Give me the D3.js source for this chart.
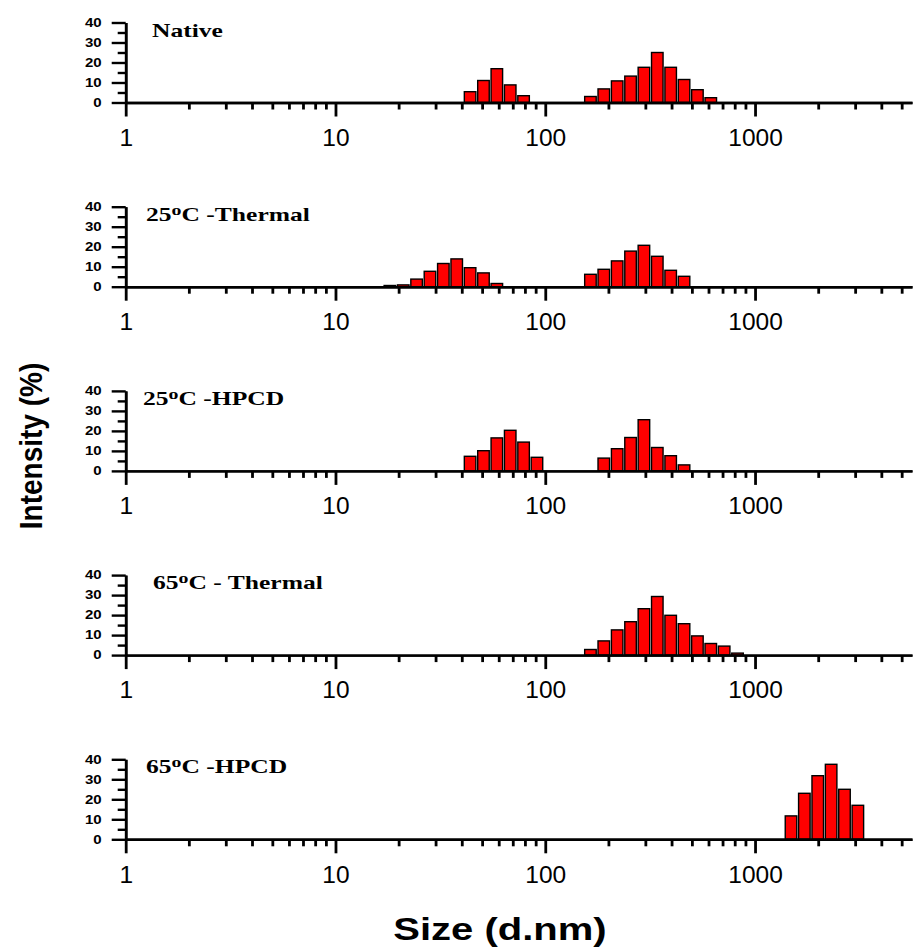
<!DOCTYPE html>
<html lang="en">
<head>
<meta charset="UTF-8">
<script src="https://cdn.jsdelivr.net/npm/d3@7"></script>
<title>DLS size distribution</title>
<style>
  html, body { margin: 0; padding: 0; background: #fff; }
  svg { display: block; }
</style>
</head>
<body>
<div id="chart"></div>
<script>
// size bins (nm) and intensity (%)
const nativeSizes = [43.82, 50.75, 58.77, 68.06, 78.82, 164.2, 190.1, 220.2, 255.0, 295.3, 342.0, 396.1, 458.7, 531.2, 615.1];
const nativeIntensity = [5.4, 11.0, 16.9, 8.8, 3.4, 3.0, 6.8, 10.8, 13.2, 17.6, 25.0, 17.6, 11.5, 6.4, 2.4];

const thermal25Sizes = [18.17, 21.04, 24.36, 28.21, 32.67, 37.84, 43.82, 50.75, 58.77, 164.2, 190.1, 220.2, 255.0, 295.3, 342.0, 396.1, 458.7];
const thermal25Intensity = [0.6, 0.9, 3.8, 7.7, 11.6, 13.9, 9.5, 6.9, 1.6, 6.2, 8.7, 12.9, 17.8, 20.7, 15.2, 8.2, 5.2];

const hpcd25Sizes = [43.82, 50.75, 58.77, 68.06, 78.82, 91.28, 190.1, 220.2, 255.0, 295.3, 342.0, 396.1, 458.7];
const hpcd25Intensity = [7.3, 10.1, 16.5, 20.3, 14.4, 6.8, 6.4, 11.1, 16.7, 25.6, 11.7, 7.6, 3.0];

const thermal65Sizes = [164.2, 190.1, 220.2, 255.0, 295.3, 342.0, 396.1, 458.7, 531.2, 615.1, 712.4, 825.0];
const thermal65Intensity = [2.8, 7.1, 12.6, 16.7, 23.2, 29.3, 19.9, 15.7, 9.6, 5.8, 4.5, 1.0];

const hpcd65Sizes = [1484, 1718, 1990, 2305, 2669, 3091];
const hpcd65Intensity = [11.7, 23.0, 31.8, 37.5, 25.0, 17.0];

// label parts: [before superscript, superscript, after]
const panelLabels = [
  ['Native', '', ''],
  ['25', 'o', 'C -Thermal'],
  ['25', 'o', 'C -HPCD'],
  ['65', 'o', 'C - Thermal'],
  ['65', 'o', 'C  -HPCD']
];
const labelX = [152, 146, 143, 153, 146];

const xMajor = [1, 10, 100, 1000];
const xMinor = [2, 3, 4, 5, 6, 7, 8, 9, 20, 30, 40, 50, 60, 70, 80, 90,
  200, 300, 400, 500, 600, 700, 800, 900, 2000, 3000, 4000, 5000];
const yMajor = [0, 10, 20, 30, 40];
const yMinor = [5, 15, 25, 35];

const panels = [
  {sizes: nativeSizes, vals: nativeIntensity},
  {sizes: thermal25Sizes, vals: thermal25Intensity},
  {sizes: hpcd25Sizes, vals: hpcd25Intensity},
  {sizes: thermal65Sizes, vals: thermal65Intensity},
  {sizes: hpcd65Sizes, vals: hpcd65Intensity}
];

const width = 913, height = 951;
const firstBase = 102.5, panelStep = 184.2, panelH = 80;
const halfBin = 0.0275; // half bar width in decades

const svg = d3.select('#chart').append('svg')
  .attr('width', width).attr('height', height);

const x = d3.scaleLog().domain([1, 5600]).range([125.7, 912]);

function stretch(sel, sx) {
  sel.each(function() {
    const t = d3.select(this);
    const tx = +t.attr('x') || 0;
    t.attr('x', tx / sx).attr('transform', `scale(${sx},1)`);
  });
}

panels.forEach((p, i) => {
  const base = firstBase + i * panelStep;
  const y = d3.scaleLinear().domain([0, 40]).range([base, base - panelH]);
  const data = p.sizes.map((s, k) => ({s: s, v: p.vals[k]}));

  // bars
  svg.append('g').selectAll('rect')
    .data(data)
    .join('rect')
    .attr('x', d => x(d.s / Math.pow(10, halfBin)))
    .attr('width', d => x(d.s * Math.pow(10, halfBin)) - x(d.s / Math.pow(10, halfBin)))
    .attr('y', d => y(d.v))
    .attr('height', d => y(0) - y(d.v))
    .attr('fill', '#ff0000')
    .attr('stroke', '#000')
    .attr('stroke-width', 1.4);

  // x axis minor + major
  const gxm = svg.append('g')
    .attr('transform', `translate(0,${base})`)
    .call(d3.axisBottom(x).tickValues(xMinor).tickSize(7).tickSizeOuter(0).tickFormat(''));
  const gx = svg.append('g')
    .attr('transform', `translate(0,${base})`)
    .call(d3.axisBottom(x).tickValues(xMajor).tickSize(14).tickSizeOuter(0)
      .tickPadding(12).tickFormat(d3.format('d')));
  [gxm, gx].forEach(g => {
    g.select('.domain').attr('stroke-width', 2.4);
    g.selectAll('.tick line').attr('stroke-width', 2.8);
  });
  gx.selectAll('text')
    .attr('font-family', 'Liberation Sans, Arial, sans-serif')
    .attr('font-size', 24.5)
    .attr('fill', '#000');

  // y axis
  const gym = svg.append('g')
    .attr('transform', `translate(${x(1)},0)`)
    .call(d3.axisLeft(y).tickValues(yMinor).tickSize(8).tickSizeOuter(0).tickFormat(''));
  const gy = svg.append('g')
    .attr('transform', `translate(${x(1)},0)`)
    .call(d3.axisLeft(y).tickValues(yMajor).tickSize(14).tickSizeOuter(0).tickPadding(10));
  [gym, gy].forEach(g => {
    g.select('.domain').attr('stroke-width', 2.6);
    g.selectAll('.tick line').attr('stroke-width', 2.4);
  });
  gy.selectAll('text')
    .attr('font-family', 'Liberation Sans, Arial, sans-serif')
    .attr('font-weight', 'bold')
    .attr('font-size', 12)
    .attr('fill', '#000')
    .call(stretch, 1.25);

  // panel label
  const lb = panelLabels[i];
  const t = svg.append('text')
    .attr('transform', `translate(${labelX[i]},${base - 66}) scale(1.42,1)`)
    .attr('font-family', 'Liberation Serif, Times New Roman, serif')
    .attr('font-weight', 'bold')
    .attr('font-size', 18)
    .attr('fill', '#000');
  t.append('tspan').text(lb[0]);
  if (lb[1]) {
    t.append('tspan').attr('font-size', 14).attr('dy', -6).text(lb[1]);
    t.append('tspan').attr('dy', 6).text(lb[2]);
  }
});

// axis titles
svg.append('text')
  .attr('transform', 'translate(500,940) scale(1.25,1)')
  .attr('text-anchor', 'middle')
  .attr('font-family', 'Liberation Sans, Arial, sans-serif')
  .attr('font-weight', 'bold')
  .attr('font-size', 32)
  .text('Size (d.nm)');

svg.append('text')
  .attr('transform', 'translate(42,446) rotate(-90) scale(1,1.1)')
  .attr('text-anchor', 'middle')
  .attr('font-family', 'Liberation Sans, Arial, sans-serif')
  .attr('font-weight', 'bold')
  .attr('font-size', 28)
  .text('Intensity (%)');
</script>
</body>
</html>
